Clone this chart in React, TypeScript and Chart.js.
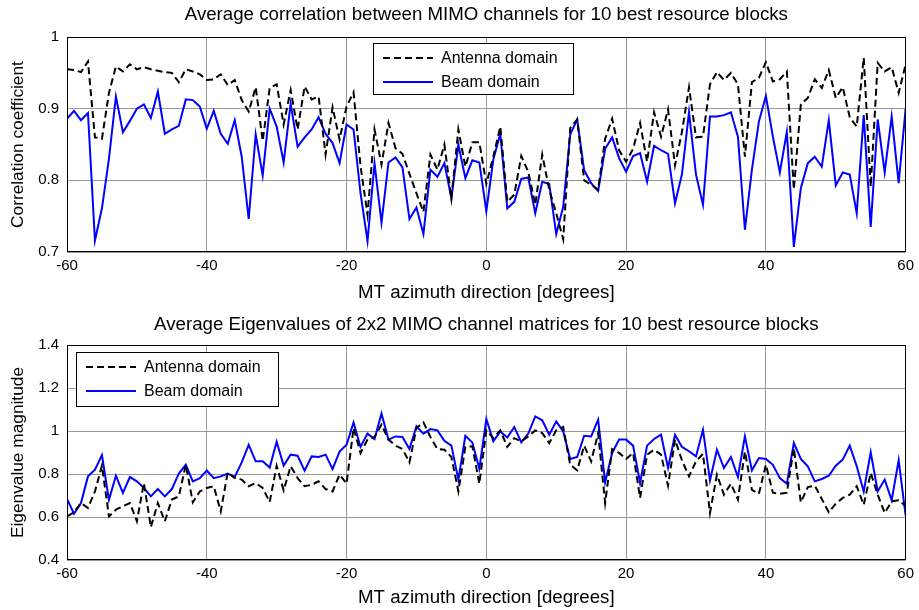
import React, { useEffect, useRef } from 'react';
import { Chart, registerables } from 'chart.js';

Chart.register(...registerables);

// ---------- data ----------
const azimuth = [
  -60, -59, -58, -57, -56, -55, -54, -53, -52, -51, -50, -49, -48, -47, -46, -45, -44, -43, -42, -41,
  -40, -39, -38, -37, -36, -35, -34, -33, -32, -31, -30, -29, -28, -27, -26, -25, -24, -23, -22, -21,
  -20, -19, -18, -17, -16, -15, -14, -13, -12, -11, -10, -9, -8, -7, -6, -5, -4, -3, -2, -1,
  0, 1, 2, 3, 4, 5, 6, 7, 8, 9, 10, 11, 12, 13, 14, 15, 16, 17, 18, 19,
  20, 21, 22, 23, 24, 25, 26, 27, 28, 29, 30, 31, 32, 33, 34, 35, 36, 37, 38, 39,
  40, 41, 42, 43, 44, 45, 46, 47, 48, 49, 50, 51, 52, 53, 54, 55, 56, 57, 58, 59, 60,
];

const corrAntenna = [
  0.955, 0.954, 0.951, 0.966, 0.86, 0.858, 0.922, 0.959, 0.952, 0.962, 0.955, 0.958, 0.955, 0.953, 0.951, 0.95, 0.937, 0.955, 0.952, 0.948,
  0.94, 0.941, 0.948, 0.933, 0.94, 0.912, 0.896, 0.93, 0.855, 0.929, 0.934, 0.878, 0.926, 0.871, 0.931, 0.913, 0.917, 0.836, 0.902, 0.857,
  0.903, 0.923, 0.82, 0.752, 0.871, 0.822, 0.88, 0.845, 0.837, 0.809, 0.782, 0.756, 0.836, 0.815, 0.85, 0.775, 0.871, 0.819, 0.853, 0.853,
  0.795, 0.833, 0.875, 0.77, 0.78, 0.834, 0.812, 0.766, 0.836, 0.787, 0.754, 0.718, 0.873, 0.885, 0.8, 0.794, 0.787, 0.858, 0.886, 0.842,
  0.826, 0.844, 0.88, 0.826, 0.895, 0.861, 0.899, 0.821, 0.868, 0.93, 0.86, 0.861, 0.934, 0.951, 0.94, 0.95, 0.934, 0.833, 0.937, 0.943,
  0.965, 0.938, 0.941, 0.952, 0.787, 0.906, 0.915, 0.941, 0.929, 0.954, 0.915, 0.93, 0.888, 0.875, 0.971, 0.791, 0.964, 0.952, 0.958, 0.922, 0.962,
];

const corrBeam = [
  0.886, 0.897, 0.884, 0.894, 0.716, 0.761, 0.83, 0.917, 0.867, 0.883, 0.9, 0.906, 0.887, 0.924, 0.865, 0.871, 0.876, 0.913, 0.912, 0.903,
  0.872, 0.897, 0.865, 0.851, 0.884, 0.833, 0.746, 0.864, 0.807, 0.9, 0.875, 0.825, 0.907, 0.847, 0.86, 0.871, 0.888, 0.865, 0.852, 0.824,
  0.878, 0.871, 0.782, 0.715, 0.824, 0.741, 0.825, 0.832, 0.818, 0.746, 0.762, 0.725, 0.815, 0.805, 0.824, 0.775, 0.85, 0.803, 0.828, 0.825,
  0.757, 0.829, 0.865, 0.761, 0.77, 0.802, 0.804, 0.754, 0.798, 0.795, 0.725, 0.763, 0.864, 0.885, 0.814, 0.796, 0.785, 0.844, 0.86, 0.831,
  0.812, 0.834, 0.838, 0.798, 0.848, 0.842, 0.837, 0.768, 0.809, 0.895, 0.808, 0.766, 0.889, 0.889, 0.891, 0.895, 0.861, 0.731, 0.815, 0.882,
  0.918, 0.861, 0.811, 0.868, 0.707, 0.789, 0.824, 0.833, 0.819, 0.884, 0.793, 0.811, 0.808, 0.754, 0.891, 0.735, 0.885, 0.811, 0.889, 0.796, 0.9,
];

const eigAntenna = [
  0.603, 0.622, 0.665, 0.642, 0.719, 0.839, 0.603, 0.634, 0.65, 0.665, 0.58, 0.758, 0.553, 0.665, 0.58, 0.681, 0.696, 0.843, 0.668, 0.719,
  0.735, 0.743, 0.626, 0.808, 0.781, 0.774, 0.743, 0.758, 0.735, 0.67, 0.838, 0.724, 0.836, 0.781, 0.743, 0.75, 0.766, 0.73, 0.719, 0.797,
  0.755, 1.014, 0.898, 0.96, 0.972, 1.03, 0.96, 0.932, 0.916, 0.854, 1.014, 1.04, 0.972, 0.916, 0.913, 0.879, 0.719, 0.926, 0.929, 0.755,
  1.003, 0.967, 1.003, 0.926, 0.967, 0.952, 0.975, 1.003, 0.99, 0.944, 1.003, 1.019, 0.843, 0.817, 0.932, 0.859, 0.99, 0.665, 0.916, 0.898,
  0.87, 0.898, 0.689, 0.89, 0.913, 0.89, 0.746, 0.96, 0.863, 0.789, 0.859, 0.894, 0.619, 0.797, 0.704, 0.755, 0.681, 0.905, 0.726, 0.708,
  0.843, 0.713, 0.708, 0.713, 0.921, 0.668, 0.739, 0.746, 0.684, 0.622, 0.662, 0.689, 0.704, 0.743, 0.657, 0.805, 0.704, 0.619, 0.673, 0.678, 0.65,
];

const eigBeam = [
  0.684, 0.615, 0.665, 0.789, 0.82, 0.888, 0.68, 0.792, 0.712, 0.786, 0.766, 0.735, 0.696, 0.73, 0.696, 0.73, 0.802, 0.843, 0.766, 0.781,
  0.816, 0.781, 0.789, 0.802, 0.786, 0.854, 0.936, 0.859, 0.859, 0.83, 0.95, 0.839, 0.89, 0.885, 0.816, 0.882, 0.879, 0.89, 0.823, 0.904,
  0.936, 1.04, 0.926, 0.988, 0.963, 1.081, 0.96, 0.975, 0.972, 0.916, 1.022, 0.988, 1.009, 1.003, 0.955, 0.932, 0.774, 0.978, 0.947, 0.825,
  1.056, 0.952, 0.998, 0.97, 1.019, 0.947, 0.988, 1.068, 1.05, 0.983, 1.045, 0.998, 0.87, 0.879, 0.978, 0.975, 1.053, 0.761, 0.898, 0.96,
  0.96, 0.932, 0.758, 0.932, 0.963, 0.983, 0.828, 0.983, 0.926, 0.906, 0.882, 1.006, 0.77, 0.913, 0.828, 0.879, 0.786, 0.975, 0.817, 0.874,
  0.87, 0.843, 0.781, 0.755, 0.944, 0.87, 0.836, 0.766, 0.777, 0.792, 0.839, 0.867, 0.932, 0.836, 0.719, 0.901, 0.719, 0.774, 0.678, 0.864, 0.606,
];

const seriesLabels = ['Antenna domain', 'Beam domain'];
const xTitle = 'MT azimuth direction [degrees]';
const topTitle = 'Average correlation between MIMO channels for 10 best resource blocks';
const topYTitle = 'Correlation coefficient';
const bottomTitle = 'Average Eigenvalues of 2x2 MIMO channel matrices for 10 best resource blocks';
const bottomYTitle = 'Eigenvalue magnitude';

// ---------- styling ----------
const FONT = '"Liberation Sans", Arial, Helvetica, sans-serif';
const W = 919;
const H = 305;
const TITLE_SIZE = 18.7;
const YTITLE_SIZE = 17.3;

type LegendBox = { left: number; top: number; width: number; height: number };

const framePlugin = (legend: LegendBox) => ({
  id: 'frameLegend',
  afterDatasetsDraw(chart: any) {
    const { ctx, chartArea } = chart;
    const { left, top, right, bottom } = chartArea;
    ctx.save();
    // axes frame
    ctx.strokeStyle = '#000';
    ctx.lineWidth = 1;
    ctx.setLineDash([]);
    ctx.strokeRect(Math.round(left) + 0.5, Math.round(top) + 0.5, Math.round(right - left) - 1, Math.round(bottom - top) - 1);
    // legend
    const bx = left + legend.left;
    const by = top + legend.top;
    ctx.fillStyle = '#fff';
    ctx.fillRect(bx, by, legend.width, legend.height);
    ctx.strokeRect(Math.round(bx) + 0.5, Math.round(by) + 0.5, legend.width, legend.height);
    ctx.font = `16px ${FONT}`;
    ctx.textBaseline = 'middle';
    ctx.textAlign = 'left';
    chart.data.datasets.forEach((ds: any, i: number) => {
      const y = by + 15 + i * 24;
      ctx.beginPath();
      ctx.strokeStyle = ds.borderColor;
      ctx.lineWidth = ds.borderWidth;
      ctx.setLineDash(ds.borderDash || []);
      ctx.moveTo(bx + 10, y);
      ctx.lineTo(bx + 60, y);
      ctx.stroke();
      ctx.setLineDash([]);
      ctx.fillStyle = '#000';
      ctx.fillText(ds.label, bx + 68, y + 1);
    });
    ctx.restore();
  },
});

function makeConfig(opts: {
  antenna: number[];
  beam: number[];
  title: string;
  yTitle: string;
  yMin: number;
  yMax: number;
  yStep: number;
  titlePad: { top: number; bottom: number };
  xHeight: number;
  legend: LegendBox;
}) {
  const toPts = (arr: number[]) => azimuth.map((x, i) => ({ x, y: arr[i] }));
  return {
    type: 'line' as const,
    data: {
      datasets: [
        {
          label: seriesLabels[0],
          data: toPts(opts.antenna),
          borderColor: '#000000',
          borderWidth: 2,
          borderDash: [7, 4],
          pointRadius: 0,
          tension: 0,
          fill: false,
        },
        {
          label: seriesLabels[1],
          data: toPts(opts.beam),
          borderColor: '#0000ff',
          borderWidth: 2,
          pointRadius: 0,
          tension: 0,
          fill: false,
        },
      ],
    },
    options: {
      responsive: false,
      animation: false as const,
      events: [],
      layout: { padding: { left: 0, right: 12, top: 0, bottom: 0 } },
      plugins: {
        legend: { display: false },
        tooltip: { enabled: false },
        title: {
          display: true,
          fullSize: false,
          text: opts.title,
          color: '#000',
          font: { family: FONT, size: TITLE_SIZE, weight: 'normal' as const, lineHeight: 1.2 },
          padding: opts.titlePad,
        },
      },
      scales: {
        x: {
          type: 'linear' as const,
          min: -60,
          max: 60,
          ticks: {
            stepSize: 20,
            color: '#000',
            padding: 5,
            maxRotation: 0,
            autoSkip: false,
            font: { family: FONT, size: 15 },
          },
          grid: { color: '#9a9a9a', lineWidth: 1, drawTicks: false },
          border: { display: false },
          title: {
            display: true,
            text: xTitle,
            color: '#000',
            font: { family: FONT, size: TITLE_SIZE, lineHeight: 1.2 },
            padding: { top: 0, bottom: 1 },
          },
          afterFit: (scale: any) => {
            scale.height = opts.xHeight;
          },
        },
        y: {
          type: 'linear' as const,
          min: opts.yMin,
          max: opts.yMax,
          ticks: {
            stepSize: opts.yStep,
            color: '#000',
            padding: 8,
            font: { family: FONT, size: 15 },
            callback: (v: any) => String(Number(Number(v).toFixed(2))),
          },
          grid: { color: '#9a9a9a', lineWidth: 1, drawTicks: false },
          border: { display: false },
          title: {
            display: true,
            text: opts.yTitle,
            color: '#000',
            font: { family: FONT, size: YTITLE_SIZE, lineHeight: 1.2 },
            padding: { top: 7.6, bottom: 0 },
          },
          afterFit: (scale: any) => {
            scale.width = 67;
          },
        },
      },
    },
    plugins: [framePlugin(opts.legend)],
  };
}

function ChartCanvas({ config }: { config: any }) {
  const ref = useRef<HTMLCanvasElement | null>(null);
  useEffect(() => {
    if (!ref.current) return;
    const chart = new Chart(ref.current, config);
    return () => chart.destroy();
  }, [config]);
  return <canvas ref={ref} width={W} height={H} style={{ display: 'block', width: W, height: H }} />;
}

const topConfig = makeConfig({
  antenna: corrAntenna,
  beam: corrBeam,
  title: topTitle,
  yTitle: topYTitle,
  yMin: 0.7,
  yMax: 1,
  yStep: 0.1,
  titlePad: { top: 3.8, bottom: 10.8 },
  xHeight: 53,
  legend: { left: 306, top: 6, width: 200, height: 51 },
});

const bottomConfig = makeConfig({
  antenna: eigAntenna,
  beam: eigBeam,
  title: bottomTitle,
  yTitle: bottomYTitle,
  yMin: 0.4,
  yMax: 1.4,
  yStep: 0.2,
  titlePad: { top: 8.8, bottom: 8.8 },
  xHeight: 50,
  legend: { left: 9, top: 7, width: 202, height: 54 },
});

export default function App() {
  return (
    <div style={{ position: 'absolute', left: 0, top: 0, width: W, height: 2 * H, background: '#fff' }}>
      <ChartCanvas config={topConfig} />
      <ChartCanvas config={bottomConfig} />
    </div>
  );
}
